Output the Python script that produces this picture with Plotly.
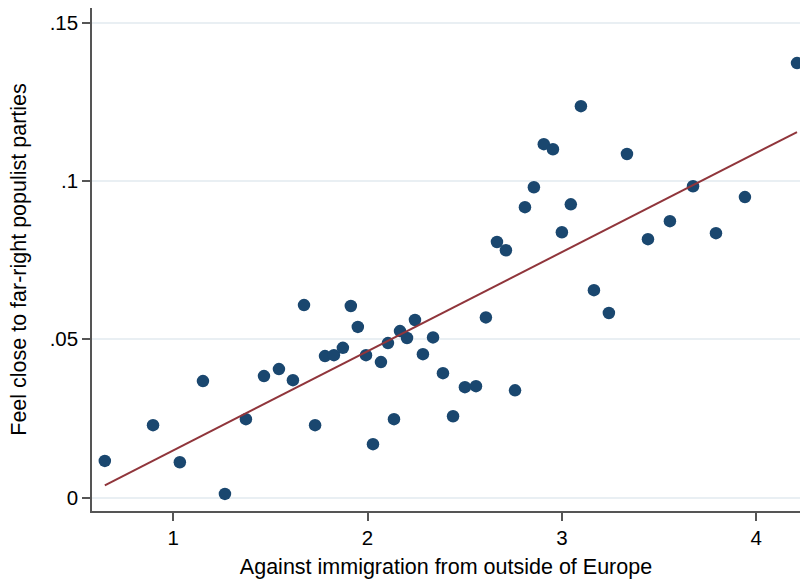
import plotly.graph_objects as go

# Data
against_immigration = [0.648, 0.896, 1.034, 1.153, 1.266, 1.374, 1.467, 1.544, 1.616, 1.673,
                       1.730, 1.781, 1.827, 1.873, 1.914, 1.950, 1.992, 2.028, 2.069, 2.105,
                       2.136, 2.167, 2.203, 2.244, 2.285, 2.337, 2.388, 2.440, 2.501, 2.558,
                       2.609, 2.666, 2.712, 2.759, 2.810, 2.856, 2.907, 2.954, 3.000, 3.046,
                       3.098, 3.165, 3.242, 3.335, 3.443, 3.556, 3.675, 3.793, 3.942, 4.210]
feel_close = [0.0116, 0.0229, 0.0112, 0.0368, 0.0012, 0.0248, 0.0384, 0.0406, 0.0371, 0.0608,
              0.0229, 0.0447, 0.0450, 0.0473, 0.0605, 0.0539, 0.0450, 0.0169, 0.0428, 0.0488,
              0.0248, 0.0526, 0.0504, 0.0561, 0.0453, 0.0506, 0.0393, 0.0257, 0.0349, 0.0352,
              0.0569, 0.0807, 0.0781, 0.0339, 0.0917, 0.0980, 0.1116, 0.1100, 0.0838, 0.0926,
              0.1236, 0.0655, 0.0583, 0.1085, 0.0816, 0.0873, 0.0983, 0.0835, 0.0949, 0.1372]

# Fitted line endpoints
fit_x = [0.648, 4.210]
fit_y = [0.0039, 0.1154]

x_tickvals = [1, 2, 3, 4]
x_ticktext = ["1", "2", "3", "4"]
y_tickvals = [0, 0.05, 0.1, 0.15]
y_ticktext = ["0", ".05", ".1", ".15"]

FONT = "Liberation Sans, Arial, sans-serif"

fig = go.Figure()
fig.add_trace(go.Scatter(
    x=against_immigration, y=feel_close, mode="markers",
    marker=dict(color="#1a476f", size=12.5, line=dict(width=0)),
    showlegend=False, hoverinfo="x+y"))
fig.add_trace(go.Scatter(
    x=fit_x, y=fit_y, mode="lines",
    line=dict(color="#90353b", width=2),
    showlegend=False))

axis_common = dict(
    showline=True, linecolor="#555555", linewidth=1.5,
    ticks="outside", ticklen=8, tickwidth=1.5, tickcolor="#555555",
    tickfont=dict(family=FONT, size=20.5, color="#000000"),
    zeroline=False,
)

fig.update_layout(
    width=800, height=579,
    margin=dict(l=92, r=0, t=8, b=68),
    paper_bgcolor="white", plot_bgcolor="white",
    font=dict(family=FONT, size=20, color="#000000"),
    xaxis=dict(
        range=[0.582, 4.2254],
        tickvals=x_tickvals, ticktext=x_ticktext,
        showgrid=False,
        title=dict(text="Against immigration from outside of Europe",
                   font=dict(family=FONT, size=21.5), standoff=11),
        **axis_common),
    yaxis=dict(
        range=[-0.0042, 0.15458],
        tickvals=y_tickvals, ticktext=y_ticktext,
        showgrid=True, gridcolor="#e9eff3", gridwidth=1.5,
        title=dict(text="Feel close to far-right populist parties",
                   font=dict(family=FONT, size=21.5), standoff=17),
        **axis_common),
)

fig.write_html("out.html")
